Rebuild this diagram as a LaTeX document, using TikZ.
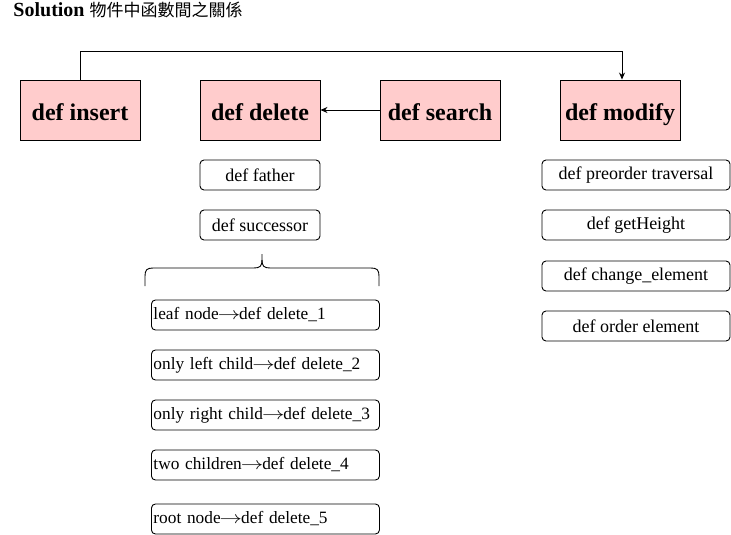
\documentclass[tikz,border=0pt]{standalone}
\usepackage{fontspec}
\setmainfont{Liberation Serif}
\newfontfamily\cjk{Noto Sans CJK TC}
\usetikzlibrary{arrows.meta}
\definecolor{pinkbox}{HTML}{FFCCCC}
\newcommand{\toarrow}{\kern-1pt\scalebox{1.3}[1]{$\rightarrow$}\kern-1pt}

\begin{document}
\begin{tikzpicture}[x=1pt, y=-1pt, line width=0.9pt,
	fnbox/.style={draw, fill=pinkbox, minimum width=120pt, minimum height=60pt, inner sep=0pt, text height=20pt, text depth=0pt, font=\fontsize{24}{28}\selectfont\bfseries},
	subbox/.style={draw, rounded corners=4pt, minimum height=30pt, inner sep=2pt, font=\fontsize{18}{20}\selectfont},
	link/.style={-{Stealth[length=7pt, width=6pt]}}]
	\useasboundingbox (0,0) rectangle (731,535);
	
	\node[anchor=base west, inner sep=0pt, font=\fontsize{20}{22}\selectfont] (title) at (13,17) {\textbf{Solution} {\cjk\fontsize{17}{20}\selectfont 物件中函數間之關係}};
	
	% top row
	\node[fnbox] (insert) at (80,110) {def insert};
	\node[fnbox] (delete) at (260,110) {def delete};
	\node[fnbox] (search) at (440,110) {def search};
	\node[fnbox] (modify) at (620,110) {def modify};
	
	\draw[link] (insert.north) -- ++(0,-28) -| ([xshift=2pt]modify.north);
	\draw[link] (search.west) -- (delete.east);
	
	% helpers of delete
	\node[subbox, minimum width=120pt] (father) at (260,175) {def father};
	\node[subbox, minimum width=120pt] (successor) at (260,225) {def successor};
	
	% helpers of modify
	\foreach \i/\y/\t in {1/175/def preorder traversal, 2/225/def getHeight, 3/276/def change\_element, 4/326/def order element}
	{
		\node[subbox, minimum width=188pt] (mod\i) at (636,\y) {\t};
	}
	
	% brace
	\draw (145,286) -- (145,276) .. controls (145,270) and (147,268) .. (153,268) -- (254,268) .. controls (260,268) and (262,266) .. (262,260) -- (262,254);
	\draw (379,286) -- (379,276) .. controls (379,270) and (377,268) .. (371,268) -- (270,268) .. controls (264,268) and (262,266) .. (262,260);
	
	% delete cases
	\foreach \i/\y/\t in {1/315/leaf node, 2/365/only left child, 3/415/only right child, 4/465/two children, 5/519/root node}
	{
		\node[subbox, anchor=west, text width=224pt, align=left, font=\fontsize{17.3}{20}\selectfont] (case\i) at (151,\y) {\mbox{\t\toarrow def delete\_\i}};
	}
\end{tikzpicture}
\end{document}
